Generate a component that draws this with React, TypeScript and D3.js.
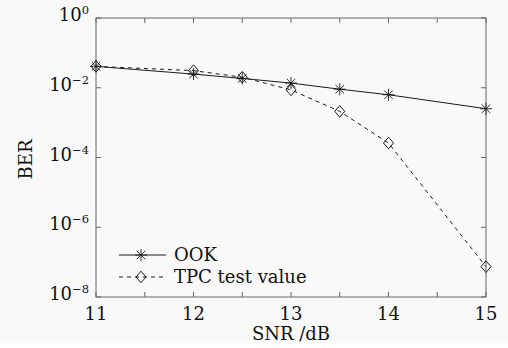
import React from "react";
import * as d3 from "d3";

const snr = [11, 12, 12.5, 13, 13.5, 14, 15];
const ook = [0.041, 0.0246, 0.0185, 0.0136, 0.0091, 0.0063, 0.0025];
const tpc = [0.041, 0.031, 0.02, 0.0087, 0.0021, 0.00026, 7.4e-8];
const xTicks = [11, 12, 13, 14, 15];
const xMinor = [11.5, 12.5, 13.5, 14.5];
const yExps = [0, -2, -4, -6, -8];
const seriesNames = ["OOK", "TPC test value"];

const W = 508, H = 348;
const M = { left: 96, right: 486, top: 18, bottom: 297 };
const FONT = "'DejaVu Serif', 'Liberation Serif', serif";
const FS = 18;

export default function App() {
  const x = d3.scaleLinear().domain([11, 15]).range([M.left, M.right]);
  const y = d3.scaleLog().domain([1e-8, 1]).range([M.bottom, M.top]);
  const line = d3.line<[number, number]>().x(d => x(d[0])).y(d => y(d[1]));
  const ookPts = snr.map((s, i) => [s, ook[i]] as [number, number]);
  const tpcPts = snr.map((s, i) => [s, tpc[i]] as [number, number]);
  const stroke = "#1a1a1a";
  const axisC = "#666";
  const tk = 5;

  const star = (cx: number, cy: number, key: string) => {
    const r = 6, d = 4.3;
    return (
      <g key={key} stroke={stroke} strokeWidth={0.9}>
        <line x1={cx} y1={cy - r} x2={cx} y2={cy + r} />
        <line x1={cx - d} y1={cy - d} x2={cx + d} y2={cy + d} />
        <line x1={cx - d} y1={cy + d} x2={cx + d} y2={cy - d} />
        <line x1={cx - r} y1={cy} x2={cx + r} y2={cy} />
      </g>
    );
  };
  const diamond = (cx: number, cy: number, key: string) => {
    const rx = 5, ry = 5.8;
    return (
      <path key={key} d={`M${cx},${cy - ry}L${cx + rx},${cy}L${cx},${cy + ry}L${cx - rx},${cy}Z`}
        fill="none" stroke={stroke} strokeWidth={1} />
    );
  };

  return (
    <svg width={W} height={H} style={{ position: "absolute", left: 0, top: 0 }}>
      <rect x={0} y={0} width={W} height={H} fill="#ffffff" />
      <rect x={0} y={0} width={W} height={343} fill="#f9f9f9" />
      {/* box */}
      <rect x={M.left} y={M.top} width={M.right - M.left} height={M.bottom - M.top} fill="none" stroke={axisC} strokeWidth={1} />
      {/* x ticks */}
      {[...xTicks, ...xMinor].map(t => (
        <g key={"xt" + t} stroke={axisC}>
          <line x1={x(t)} x2={x(t)} y1={M.bottom} y2={M.bottom - tk} />
          <line x1={x(t)} x2={x(t)} y1={M.top} y2={M.top + tk} />
        </g>
      ))}
      {yExps.map(e => (
        <g key={"yt" + e} stroke={axisC}>
          <line x1={M.left} x2={M.left + tk} y1={y(Math.pow(10, e))} y2={y(Math.pow(10, e))} />
          <line x1={M.right} x2={M.right - tk} y1={y(Math.pow(10, e))} y2={y(Math.pow(10, e))} />
        </g>
      ))}
      {xTicks.map(t => (
        <text key={"xl" + t} x={x(t)} y={320} textAnchor="middle" fontFamily={FONT} fontSize={FS} fill="#111">{t}</text>
      ))}
      {yExps.map(e => (
        <text key={"yl" + e} x={M.left - 7} y={y(Math.pow(10, e)) + 3} textAnchor="end" fontFamily={FONT} fontSize={FS} fill="#111">
          10<tspan dy={-7} fontSize={11.5}>{e === 0 ? "0" : "\u2212" + Math.abs(e)}</tspan>
        </text>
      ))}
      <text x={(M.left + M.right) / 2} y={340} textAnchor="middle" fontFamily={FONT} fontSize={FS} fill="#111">SNR /dB</text>
      <text transform={`translate(32,${(M.top + M.bottom) / 2 + 2}) rotate(-90)`} textAnchor="middle" fontFamily={FONT} fontSize={FS} fill="#111">BER</text>
      {/* lines */}
      <path d={line(ookPts) || ""} fill="none" stroke={stroke} strokeWidth={1} />
      <path d={line(tpcPts) || ""} fill="none" stroke={stroke} strokeWidth={1} strokeDasharray="4,4" />
      {ookPts.map((p, i) => star(x(p[0]), y(p[1]), "s" + i))}
      {tpcPts.map((p, i) => diamond(x(p[0]), y(p[1]), "d" + i))}
      {/* legend */}
      <line x1={119} x2={166} y1={255} y2={255} stroke={stroke} strokeWidth={1} />
      {star(141, 255, "ls")}
      <line x1={119} x2={166} y1={277} y2={277} stroke={stroke} strokeWidth={1} strokeDasharray="4,4" />
      {diamond(141, 277, "ld")}
      <text x={174} y={261} fontFamily={FONT} fontSize={FS} fill="#111">{seriesNames[0]}</text>
      <text x={174} y={283} fontFamily={FONT} fontSize={FS} fill="#111">{seriesNames[1]}</text>
    </svg>
  );
}
